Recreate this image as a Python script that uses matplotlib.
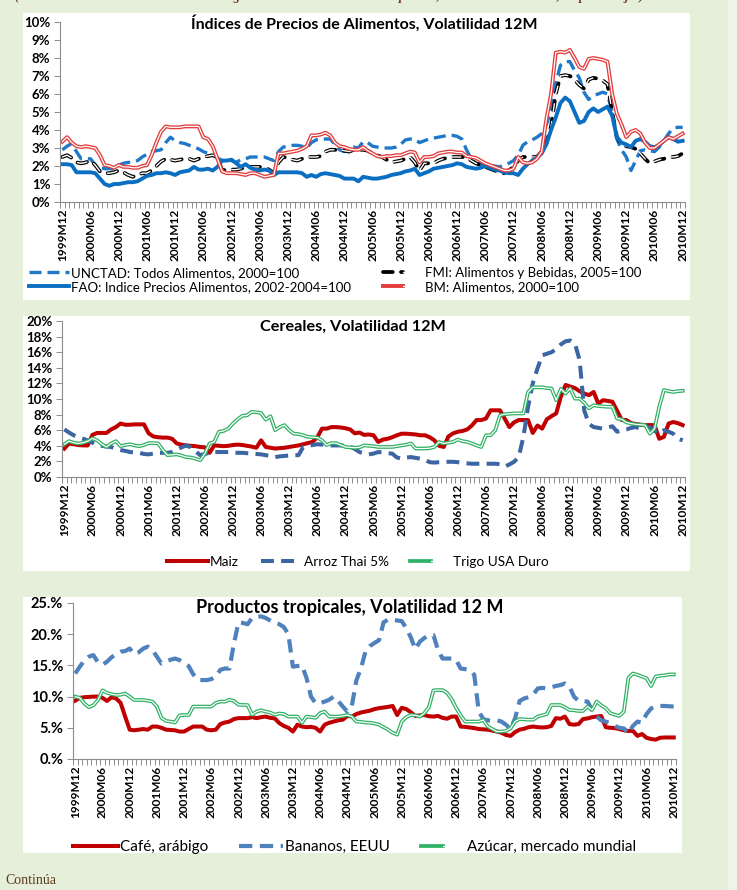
import numpy as np
import matplotlib
matplotlib.use("Agg")
import matplotlib.pyplot as plt
from matplotlib.legend_handler import HandlerTuple
from matplotlib.patches import Rectangle

plt.rcParams['font.family'] = ['Lato', 'DejaVu Sans']

W, H = 737, 890
BG = '#e5efd9'
GRAY = '#8c8c8c'

# months 1999M12 .. 2010M12
months = []
yy, mm = 1999, 12
for k in range(133):
    months.append(f"{yy}M{mm:02d}")
    mm += 1
    if mm > 12:
        mm = 1
        yy += 1

# ---- Indices de precios de alimentos (volatilidad 12M, %) ----
unctad = [2.9, 3.1, 3.25, 2.8, 2.4, 2.4, 2.4, 2.05, 1.9, 1.85, 1.85, 1.85,
          2.05, 2.15, 2.2, 2.2, 2.3, 2.5, 2.65, 2.8, 2.85, 2.9, 3.3, 3.6,
          3.4, 3.3, 3.25, 3.15, 3.05, 2.95, 2.8, 2.7, 2.6, 2.45, 2.3, 2.35,
          2.3, 2.2, 2.35, 2.4, 2.5, 2.5, 2.5, 2.5, 2.4, 2.3, 2.8, 3.05,
          3.1, 3.15, 3.15, 3.1, 3.0, 3.3, 3.45, 3.5, 3.5, 3.5, 3.2, 2.9,
          2.8, 3.0, 3.05, 3.0, 3.35, 3.3, 3.1, 3.05, 3.0, 3.0, 3.0, 3.05,
          3.2, 3.45, 3.5, 3.5, 3.3, 3.4, 3.5, 3.55, 3.6, 3.65, 3.7, 3.7,
          3.65, 3.5, 2.9, 2.4, 2.15, 2.1, 2.05, 2.0, 2.0, 1.95, 2.05, 2.15,
          2.3, 2.6, 3.15, 3.35, 3.45, 3.6, 3.8, 4.3, 5.1, 6.6, 7.6, 7.8,
          7.8, 7.3, 6.9, 6.1, 5.7, 5.9, 6.0, 6.1, 6.0, 5.0, 3.5, 2.9,
          2.5, 1.75, 2.3, 2.85, 2.9, 2.85, 2.8, 3.05, 3.4, 3.8, 4.1, 4.15,
          4.15]
fmi = [2.5, 2.6, 2.45, 2.2, 2.15, 2.2, 2.3, 2.05, 1.7, 1.6, 1.6, 1.65,
       1.75, 1.65, 1.5, 1.4, 1.5, 1.6, 1.6, 1.75, 2.0, 2.25, 2.4, 2.35,
       2.3, 2.35, 2.4, 2.4, 2.3, 2.4, 2.5, 2.55, 2.6, 2.5, 1.75, 1.8,
       1.8, 1.8, 1.85, 1.95, 1.95, 1.95, 1.95, 1.9, 1.8, 1.6, 2.2, 2.5,
       2.45, 2.35, 2.3, 2.4, 2.5, 2.5, 2.5, 2.55, 2.8, 2.9, 2.9, 2.9,
       2.85, 2.8, 2.9, 2.9, 2.9, 2.85, 2.7, 2.6, 2.5, 2.35, 2.2, 2.25,
       2.3, 2.4, 2.5, 2.2, 1.75, 2.15, 2.15, 2.15, 2.3, 2.4, 2.45, 2.5,
       2.5, 2.5, 2.5, 2.3, 2.15, 2.05, 1.95, 1.85, 1.75, 1.65, 1.6, 1.75,
       1.95, 2.3, 2.5, 2.5, 2.5, 2.5, 2.8, 3.3, 4.2, 6.0, 7.0, 7.05,
       7.0, 6.8, 6.5, 6.3, 6.8, 6.9, 6.85, 6.75, 6.55, 5.0, 3.6, 3.2,
       3.1, 3.05, 2.95, 2.7, 2.4, 2.15, 2.25, 2.35, 2.4, 2.5, 2.5, 2.55,
       2.7]
fao = [2.1, 2.1, 2.05, 1.65, 1.65, 1.65, 1.65, 1.6, 1.3, 1.0, 0.9, 1.0,
       1.0, 1.05, 1.1, 1.1, 1.15, 1.3, 1.45, 1.5, 1.6, 1.6, 1.65, 1.6,
       1.5, 1.65, 1.7, 1.75, 1.95, 1.8, 1.8, 1.85, 1.75, 1.95, 2.3, 2.3,
       2.35, 2.15, 1.95, 2.1, 1.9, 1.8, 1.75, 1.8, 1.75, 1.5, 1.65, 1.65,
       1.65, 1.65, 1.65, 1.6, 1.4, 1.5, 1.4, 1.55, 1.6, 1.55, 1.5, 1.45,
       1.3, 1.3, 1.3, 1.15, 1.4, 1.35, 1.3, 1.3, 1.35, 1.4, 1.5, 1.55,
       1.6, 1.7, 1.75, 1.85, 1.5, 1.6, 1.7, 1.85, 1.9, 1.95, 2.0, 2.05,
       2.15, 2.1, 1.95, 1.9, 1.85, 1.9, 2.0, 1.9, 1.8, 1.75, 1.65, 1.6,
       1.6, 1.5, 1.85, 2.1, 2.3, 2.45, 2.7, 3.2, 4.0, 4.7, 5.5, 5.8,
       5.6, 5.0, 4.4, 4.5, 5.0, 5.2, 5.0, 5.15, 5.3, 4.8, 3.6, 3.3,
       3.2, 3.05, 3.4, 3.5, 3.35, 3.1, 3.05, 3.15, 3.4, 3.6, 3.5, 3.35,
       3.4]
bm = [3.35, 3.6, 3.3, 3.1, 3.05, 3.1, 3.05, 3.0, 2.6, 2.05, 2.0, 1.9,
      2.05, 1.95, 1.95, 1.9, 1.9, 2.0, 2.05, 2.6, 3.3, 3.9, 4.2, 4.15,
      4.15, 4.15, 4.2, 4.2, 4.2, 4.2, 3.6, 3.5, 3.1, 2.4, 1.7, 1.6,
      1.6, 1.6, 1.55, 1.5, 1.6, 1.6, 1.5, 1.4, 1.45, 1.5, 2.7, 2.7,
      2.75, 2.8, 2.85, 2.95, 3.1, 3.7, 3.7, 3.75, 3.85, 3.7, 3.3, 3.1,
      3.05, 2.95, 2.9, 2.9, 3.05, 2.85, 2.7, 2.55, 2.5, 2.55, 2.55, 2.6,
      2.6, 2.7, 2.8, 2.75, 2.2, 2.5, 2.5, 2.55, 2.7, 2.75, 2.8, 2.8,
      2.75, 2.75, 2.55, 2.5, 2.45, 2.3, 2.15, 2.05, 1.95, 1.85, 1.75, 1.75,
      1.85, 2.5, 2.2, 2.15, 2.2, 2.4, 2.8, 4.6, 6.0, 8.3, 8.35, 8.3,
      8.45, 8.0, 7.5, 7.4, 7.95, 8.0, 7.95, 7.9, 7.8, 6.0, 4.9, 4.3,
      3.6, 3.9, 4.0, 3.8, 3.3, 3.0, 3.0, 3.2, 3.4, 3.6, 3.5, 3.65,
      3.8]

# ---- Cereales ----
maiz = [3.65, 4.3, 4.2, 4.1, 4.05, 4.05, 5.4, 5.65, 5.65, 5.65, 6.1, 6.4,
        6.85, 6.7, 6.7, 6.75, 6.75, 6.75, 5.6, 5.2, 5.1, 5.05, 5.05, 4.9,
        4.3, 4.15, 4.05, 4.0, 3.95, 3.85, 3.8, 3.1, 4.05, 4.0, 3.95, 4.0,
        4.1, 4.15, 4.1, 4.0, 3.9, 3.75, 4.7, 3.85, 3.75, 3.65, 3.7, 3.75,
        3.85, 3.95, 4.05, 4.2, 4.35, 4.5, 5.1, 6.2, 6.2, 6.4, 6.4, 6.35,
        6.25, 6.1, 5.6, 5.7, 5.4, 5.45, 5.35, 4.5, 4.8, 4.9, 5.1, 5.35,
        5.55, 5.55, 5.5, 5.45, 5.35, 5.35, 5.1, 4.7, 4.0, 3.85, 5.2, 5.6,
        5.8, 5.9, 6.1, 6.6, 7.3, 7.3, 7.5, 8.55, 8.55, 8.55, 7.5, 6.4,
        7.0, 7.3, 7.3, 7.3, 5.65, 6.6, 6.2, 7.4, 7.8, 8.15, 10.3, 11.8,
        11.6, 11.4, 11.0, 10.7, 10.5, 10.9, 9.4, 9.85, 9.75, 9.65, 8.5, 7.3,
        7.3, 6.9, 6.8, 6.7, 6.65, 6.65, 6.65, 4.9, 5.15, 6.85, 7.05, 6.9,
        6.65]
arroz = [6.1, 5.7, 5.35, 5.1, 4.9, 4.7, 4.4, 4.05, 4.0, 3.9, 3.85, 3.6,
         3.45, 3.35, 3.2, 3.15, 3.1, 2.95, 2.9, 3.0, 3.1, 3.1, 3.1, 3.2,
         3.5, 3.8, 4.05, 3.8, 3.3, 2.8, 2.95, 3.1, 3.2, 3.2, 3.2, 3.2,
         3.15, 3.1, 3.1, 3.05, 3.0, 2.95, 2.9, 2.8, 2.7, 2.55, 2.65, 2.7,
         2.75, 2.8, 2.8, 3.85, 4.0, 4.1, 4.2, 4.15, 4.1, 4.05, 4.05, 4.05,
         4.05, 3.9, 3.6, 3.2, 3.0, 2.9, 3.0, 3.2, 3.15, 3.05, 3.0, 2.5,
         2.35, 2.5, 2.55, 2.45, 2.35, 2.2, 1.9, 1.85, 1.9, 1.95, 1.95, 1.95,
         1.9, 1.8, 1.75, 1.7, 1.7, 1.7, 1.7, 1.7, 1.7, 1.65, 1.35, 1.6,
         1.95, 2.55, 5.15, 9.0, 12.0, 13.9, 15.6, 15.8, 16.0, 16.4, 17.0, 17.4,
         17.5, 17.1, 15.0, 8.5, 6.8, 6.4, 6.3, 6.2, 6.35, 6.5, 5.8, 6.0,
         6.1, 6.3, 6.4, 6.2, 6.3, 6.4, 5.9, 5.55, 6.0, 5.8, 5.55, 4.9,
         4.7]
trigo = [4.2, 4.6, 4.4, 4.3, 4.4, 4.6, 4.95, 4.7, 4.2, 3.85, 4.3, 4.6,
         3.95, 4.1, 4.2, 4.05, 3.95, 4.1, 4.35, 4.35, 4.3, 3.5, 2.8, 2.85,
         2.9, 2.75, 2.55, 2.5, 2.35, 2.15, 3.0, 4.3, 4.5, 5.8, 5.9, 6.2,
         6.85, 7.4, 7.85, 7.9, 8.35, 8.3, 8.2, 7.35, 7.8, 6.0, 6.4, 6.65,
         6.0, 5.55, 5.5, 5.35, 5.15, 5.1, 5.05, 4.7, 4.1, 4.35, 4.35, 4.1,
         3.85, 3.8, 3.75, 3.8, 4.05, 4.0, 3.95, 3.85, 3.85, 3.85, 3.85, 3.95,
         4.05, 4.15, 4.3, 3.65, 3.65, 3.65, 3.7, 3.85, 4.5, 4.3, 4.4, 4.5,
         4.8, 4.6, 4.5, 4.3, 4.05, 3.85, 5.35, 5.35, 6.0, 7.9, 8.05, 8.1,
         8.15, 8.15, 8.15, 10.9, 11.5, 11.5, 11.5, 11.4, 11.35, 9.85, 11.3, 10.7,
         11.35, 10.05, 10.05, 9.5, 8.8, 9.2, 9.1, 9.05, 9.0, 9.0, 7.5, 7.4,
         7.0, 6.85, 6.75, 6.7, 6.65, 5.55, 6.2, 9.0, 11.15, 11.0, 10.9, 11.0,
         11.05]

# ---- Productos tropicales ----
cafe = [9.35, 9.8, 9.9, 9.95, 10.0, 10.0, 9.8, 9.3, 9.9, 9.7, 9.0, 6.8,
        4.7, 4.6, 4.7, 4.8, 4.7, 5.2, 5.2, 5.0, 4.7, 4.65, 4.6, 4.4,
        4.4, 4.8, 5.2, 5.2, 5.2, 4.7, 4.6, 4.7, 5.6, 5.85, 6.0, 6.4,
        6.55, 6.55, 6.55, 6.7, 6.55, 6.7, 6.8, 6.6, 6.5, 5.75, 5.3, 5.0,
        4.4, 5.5, 5.2, 5.1, 5.15, 5.0, 4.4, 5.5, 5.8, 6.0, 6.2, 6.3,
        6.9, 6.8, 7.2, 7.45, 7.6, 7.75, 8.0, 8.15, 8.25, 8.35, 8.5, 7.05,
        8.2, 8.0, 7.5, 6.9, 7.0, 7.05, 6.85, 6.8, 6.9, 6.6, 6.45, 6.8,
        6.8, 5.2, 5.15, 5.05, 4.95, 4.8, 4.75, 4.7, 4.55, 4.4, 4.2, 3.85,
        3.7, 4.3, 4.7, 4.85, 5.1, 5.2, 5.1, 5.05, 5.1, 5.3, 6.55, 6.45,
        6.8, 5.6, 5.5, 5.6, 6.4, 6.5, 6.7, 6.8, 6.9, 5.1, 5.0, 4.95,
        4.8, 4.6, 4.5, 4.5, 3.7, 4.0, 3.4, 3.2, 3.1, 3.4, 3.45, 3.45,
        3.45]
bananos = [13.7, 14.8, 15.8, 16.4, 16.65, 15.5, 15.1, 15.6, 16.3, 16.8, 17.2, 17.3,
           17.7, 16.8, 17.1, 17.7, 18.0, 17.5, 16.4, 15.3, 15.6, 15.9, 16.1, 15.85,
           15.4, 14.9, 13.6, 12.7, 12.65, 12.65, 12.8, 13.2, 14.3, 14.5, 14.5, 18.5,
           21.9, 21.8, 21.6, 22.6, 22.8, 22.85, 22.6, 22.2, 21.8, 21.6, 21.15, 20.0,
           14.8, 14.9, 15.0, 13.0, 10.0, 8.95, 8.95, 9.2, 9.5, 10.0, 9.3, 8.4,
           7.6, 8.5, 12.6, 14.5, 17.2, 18.1, 18.6, 19.05, 21.9, 22.35, 22.3, 22.2,
           22.1, 21.0, 19.5, 17.6, 18.8, 19.4, 19.85, 19.85, 17.5, 16.1, 16.1, 16.1,
           15.9, 14.5, 14.4, 14.25, 13.5, 7.6, 6.4, 6.2, 6.15, 6.2, 6.0, 5.5,
           4.8, 6.5, 9.3, 9.7, 9.9, 10.3, 11.3, 11.4, 11.3, 11.5, 11.7, 11.85,
           12.1, 11.6, 10.0, 9.3, 9.25, 9.2, 7.8, 6.8, 6.2, 6.0, 5.75, 5.3,
           5.0, 4.9, 4.1, 5.3, 6.0, 5.8, 7.2, 8.1, 8.45, 8.5, 8.5, 8.45,
           8.4]
azucar = [10.0, 9.8, 8.9, 8.3, 8.6, 9.45, 11.0, 10.6, 10.4, 10.25, 10.3, 10.5,
          10.0, 9.45, 9.45, 9.45, 9.35, 9.2, 8.4, 6.6, 6.1, 6.0, 5.85, 7.0,
          7.05, 7.05, 8.4, 8.4, 8.4, 8.4, 8.4, 9.0, 9.2, 9.2, 9.5, 9.3,
          8.7, 8.65, 8.65, 7.1, 7.6, 7.8, 7.6, 7.45, 7.1, 7.3, 7.2, 6.8,
          6.8, 6.8, 5.8, 6.8, 6.7, 6.6, 7.35, 7.6, 6.8, 6.8, 6.8, 6.9,
          7.05, 6.8, 6.0, 5.95, 5.85, 5.8, 5.7, 5.5, 5.1, 4.7, 4.2, 3.9,
          6.0, 6.7, 7.05, 7.0, 6.8, 7.35, 8.3, 11.0, 11.05, 11.05, 10.6, 9.6,
          8.2, 7.0, 6.0, 6.0, 6.0, 6.0, 6.25, 5.2, 4.8, 4.4, 4.4, 4.5,
          4.9, 6.0, 6.4, 6.35, 6.3, 6.3, 6.8, 7.0, 7.2, 8.65, 8.65, 8.65,
          8.3, 7.85, 7.8, 7.7, 7.7, 8.4, 7.85, 9.2, 8.6, 8.15, 7.35, 7.1,
          6.9, 7.6, 13.0, 13.7, 13.5, 13.2, 12.95, 11.7, 13.2, 13.35, 13.4, 13.55,
          13.55]

x = np.arange(len(months))

fig = plt.figure(figsize=(W / 100, H / 100), dpi=100)
fig.patch.set_facecolor(BG)


def fx(px):
    return px / W


def fy(py):
    return 1 - py / H


def panel(x0, y0, x1, y1):
    fig.add_artist(Rectangle((fx(x0), fy(y1)), (x1 - x0) / W, (y1 - y0) / H,
                             transform=fig.transFigure, facecolor='white',
                             edgecolor='none', zorder=-1))


def make_axes(x0, y0, x1, y1, ymax, ystep, fmt, yfs=9.5):
    ax = fig.add_axes([fx(x0), fy(y1), (x1 - x0) / W, (y1 - y0) / H])
    ax.set_facecolor('none')
    ax.set_xlim(-0.5, 132.5)
    ax.set_ylim(0, ymax)
    yt = np.arange(0, ymax + 0.01, ystep)
    ax.set_yticks(yt)
    ax.set_yticklabels([fmt.format(v) for v in yt], fontsize=yfs, fontweight='bold')
    ax.set_xticks(x[::6])
    ax.set_xticklabels(months[::6], rotation=90, fontsize=8.6, fontweight='bold')
    ax.set_xticks(np.arange(-0.5, 133, 1), minor=True)
    ax.tick_params(axis='x', which='major', length=0, pad=5)
    ax.tick_params(axis='x', which='minor', length=4, color=GRAY, width=0.7)
    ax.tick_params(axis='y', length=4, color=GRAY, width=0.7, pad=3)
    for s in ['top', 'right']:
        ax.spines[s].set_visible(False)
    for s in ['left', 'bottom']:
        ax.spines[s].set_color(GRAY)
        ax.spines[s].set_linewidth(0.8)
    return ax


def double(ax, y, color, lw=2.6, inner=0.8):
    a, = ax.plot(x, y, color=color, lw=lw, solid_joinstyle='round')
    b, = ax.plot(x, y, color='white', lw=inner, solid_joinstyle='round')
    return (a, b)


# right strip
fig.add_artist(Rectangle((fx(728), 0), 9 / W, 1, transform=fig.transFigure,
                         facecolor='#eef4e8', edgecolor='none', zorder=-2))

# header (cut off at the top in the source as well)
fig.text(fx(15), fy(-3),
         '(Desviación estándar anualizada de los logaritmos de la tasa mensual de precios, Dic. 1999 – Dic. 2010, en porcentajes)',
         ha='left', va='center', fontsize=9.2, fontstyle='italic', fontweight='bold',
         family=['Liberation Serif', 'DejaVu Serif'], color='#6b3a1e')

# ---------- panel 1 ----------
panel(23, 13, 690, 300)
ax1 = make_axes(60, 22, 685, 202, 10, 1, '{:.0f}%')
h_un, = ax1.plot(x, unctad, color='#1f78c8', lw=2.4, dashes=(3.6, 1.8))
h_fm1, = ax1.plot(x, fmi, color='black', lw=2.7, dashes=(2.6, 2.2), dash_capstyle='round')
h_fm2, = ax1.plot(x, fmi, color='white', lw=1.0, dashes=(7.0, 5.9), dash_capstyle='round')
h_fao, = ax1.plot(x, fao, color='#0a6fc2', lw=2.8, solid_joinstyle='round')
h_bm = double(ax1, bm, '#e23c3c', lw=2.8, inner=0.9)
fig.text(fx(364), fy(23), 'Índices de Precios de Alimentos, Volatilidad 12M',
         ha='center', va='center', fontsize=11.5, fontweight='bold')
fig.legend([h_un, h_fao, (h_fm1, h_fm2), h_bm],
           ['UNCTAD: Todos Alimentos, 2000=100',
            'FAO: Indice Precios Alimentos, 2002-2004=100',
            'FMI: Alimentos y Bebidas, 2005=100',
            'BM: Alimentos, 2000=100'],
           handler_map={tuple: HandlerTuple(ndivide=None)},
           loc='upper left', bbox_to_anchor=(fx(29), fy(267)), ncol=2,
           frameon=False, fontsize=9.5, handlelength=3.0, handletextpad=0.2,
           columnspacing=2.4, labelspacing=0.15, borderpad=0, borderaxespad=0)

# ---------- panel 2 ----------
panel(23, 316, 690, 571)
ax2 = make_axes(62, 321, 685, 477, 20, 2, '{:.0f}%')
h_ma, = ax2.plot(x, maiz, color='#c00000', lw=2.9, solid_joinstyle='round')
h_ar, = ax2.plot(x, arroz, color='#3b65a3', lw=2.9, dashes=(3.2, 1.8))
h_tr = double(ax2, trigo, '#2fb064', lw=2.7, inner=0.9)
fig.text(fx(353), fy(327), 'Cereales, Volatilidad 12M',
         ha='center', va='center', fontsize=11.7, fontweight='bold')
fig.legend([h_ma, h_ar, h_tr], ['Maiz', 'Arroz Thai 5%', 'Trigo USA Duro'],
           handler_map={tuple: HandlerTuple(ndivide=None)},
           loc='center', bbox_to_anchor=(fx(358), fy(562)), ncol=3,
           frameon=False, fontsize=9.8, handlelength=3.0, handletextpad=0.15,
           columnspacing=1.6, borderpad=0, borderaxespad=0)

# ---------- panel 3 ----------
panel(23, 597, 682, 853)
ax3 = make_axes(73, 603, 676, 759, 25, 5, '{:.0f}.%', yfs=10.5)
h_ca, = ax3.plot(x, cafe, color='#c00000', lw=2.9, solid_joinstyle='round')
h_ba, = ax3.plot(x, bananos, color='#4f81bd', lw=3.0, dashes=(3.2, 1.8))
h_az = double(ax3, azucar, '#2fb064', lw=2.7, inner=0.9)
fig.text(fx(350), fy(608), 'Productos tropicales, Volatilidad 12 M',
         ha='center', va='center', fontsize=13, fontweight='bold')
fig.legend([h_ca, h_ba, h_az], ['Café, arábigo', 'Bananos, EEUU', 'Azúcar, mercado mundial'],
           handler_map={tuple: HandlerTuple(ndivide=None)},
           loc='center', bbox_to_anchor=(fx(355), fy(847)), ncol=3,
           frameon=False, fontsize=11, handlelength=2.9, handletextpad=0.15,
           columnspacing=2.0, borderpad=0, borderaxespad=0)

fig.text(fx(5), fy(881), 'Continúa', ha='left', va='center', fontsize=10,
         family=['Liberation Serif', 'DejaVu Serif'], color='#5c3a1e')

fig.savefig('out.png', dpi=100, facecolor=BG)
